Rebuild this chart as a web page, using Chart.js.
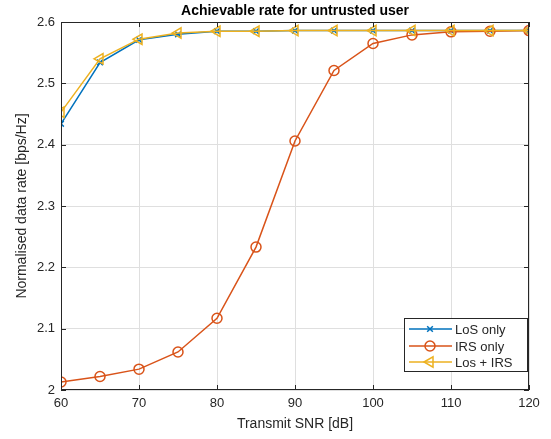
<!DOCTYPE html>
<html lang="en">
<head>
    <meta charset="UTF-8">
    <title>Achievable rate for untrusted user</title>
    <script src="https://cdn.jsdelivr.net/npm/chart.js"></script>
    <style>
        body { margin: 0; background: #fff; }
        canvas { display: block; }
    </style>
</head>
<body>
    <canvas id="rateChart" width="551" height="439"></canvas>

    <script>
        // Data
        const snrDb = [60, 65, 70, 75, 80, 85, 90, 95, 100, 105, 110, 115, 120];
        const losOnly = [2.434, 2.534, 2.571, 2.580, 2.585, 2.585, 2.586, 2.586, 2.586, 2.586, 2.586, 2.586, 2.586];
        const irsOnly = [2.013, 2.022, 2.034, 2.062, 2.117, 2.233, 2.406, 2.521, 2.565, 2.579, 2.584, 2.585, 2.586];
        const losPlusIrs = [2.453, 2.540, 2.572, 2.582, 2.585, 2.585, 2.586, 2.586, 2.586, 2.586, 2.586, 2.586, 2.586];
        const xTicks = [60, 70, 80, 90, 100, 110, 120];
        const yTicks = [2, 2.1, 2.2, 2.3, 2.4, 2.5, 2.6];

        const FONT = "'Liberation Sans', Arial, sans-serif";
        const AXIS = "#262626";

        const toPoints = ys => ys.map((y, i) => ({ x: snrDb[i], y: y }));

        // MATLAB-like box, inward ticks, title and legend
        const matlabLook = {
            id: "matlabLook",
            afterDraw(chart) {
                const ctx = chart.ctx;
                const a = chart.chartArea;
                const xs = chart.scales.x, ys = chart.scales.y;
                ctx.save();
                ctx.strokeStyle = AXIS;
                ctx.lineWidth = 1;
                ctx.strokeRect(a.left + 0.5, a.top + 0.5, a.right - a.left - 1, a.bottom - a.top - 1);
                ctx.beginPath();
                xTicks.forEach(v => {
                    const px = Math.round(xs.getPixelForValue(v)) + 0.5;
                    ctx.moveTo(px, a.bottom); ctx.lineTo(px, a.bottom - 5);
                    ctx.moveTo(px, a.top); ctx.lineTo(px, a.top + 5);
                });
                yTicks.forEach(v => {
                    const py = Math.round(ys.getPixelForValue(v)) + 0.5;
                    ctx.moveTo(a.left, py); ctx.lineTo(a.left + 5, py);
                    ctx.moveTo(a.right, py); ctx.lineTo(a.right - 5, py);
                });
                ctx.stroke();

                // title
                ctx.fillStyle = "#000";
                ctx.font = "bold 14px " + FONT;
                ctx.textAlign = "center";
                ctx.textBaseline = "middle";
                ctx.fillText("Achievable rate for untrusted user", (a.left + a.right) / 2, 11);

                // legend
                const lx = 404, ly = 318, lw = 124, lh = 54;
                ctx.fillStyle = "#fff";
                ctx.fillRect(lx, ly, lw, lh);
                ctx.strokeStyle = AXIS;
                ctx.strokeRect(lx + 0.5, ly + 0.5, lw - 1, lh - 1);
                ctx.font = "13px " + FONT;
                ctx.textAlign = "left";
                const rows = [329, 346, 362];
                chart.data.datasets.forEach((ds, i) => {
                    const y = rows[i];
                    ctx.strokeStyle = ds.borderColor;
                    ctx.lineWidth = 1.5;
                    ctx.beginPath();
                    ctx.moveTo(409, y); ctx.lineTo(452, y);
                    ctx.stroke();
                    ctx.fillStyle = "rgba(0,0,0,0)";
                    ctx.strokeStyle = ds.borderColor;
                    Chart.helpers.drawPoint(ctx, {
                        pointStyle: ds.pointStyle,
                        rotation: ds.pointRotation || 0,
                        radius: ds.pointRadius,
                        borderWidth: 1.5
                    }, 430, y);
                    ctx.fillStyle = "#262626";
                    ctx.fillText(ds.label, 455, y + 1);
                });
                ctx.restore();
            }
        };

        const ctx = document.getElementById("rateChart").getContext("2d");
        new Chart(ctx, {
            type: "line",
            data: {
                datasets: [
                    {
                        label: "LoS only",
                        data: toPoints(losOnly),
                        borderColor: "#0072BD",
                        pointBorderColor: "#0072BD",
                        backgroundColor: "transparent",
                        pointBackgroundColor: "transparent",
                        pointStyle: "crossRot",
                        pointRadius: 4,
                        borderWidth: 1.5,
                        pointBorderWidth: 1.5,
                        order: 3
                    },
                    {
                        label: "IRS only",
                        data: toPoints(irsOnly),
                        borderColor: "#D95319",
                        pointBorderColor: "#D95319",
                        backgroundColor: "transparent",
                        pointBackgroundColor: "transparent",
                        pointStyle: "circle",
                        pointRadius: 5,
                        borderWidth: 1.5,
                        pointBorderWidth: 1.5,
                        order: 2
                    },
                    {
                        label: "Los + IRS",
                        data: toPoints(losPlusIrs),
                        borderColor: "#EDB120",
                        pointBorderColor: "#EDB120",
                        backgroundColor: "transparent",
                        pointBackgroundColor: "transparent",
                        pointStyle: "triangle",
                        pointRotation: -90,
                        pointRadius: 6,
                        borderWidth: 1.5,
                        pointBorderWidth: 1.5,
                        order: 1
                    }
                ]
            },
            options: {
                responsive: false,
                animation: false,
                layout: { padding: { top: 22, right: 22, left: 0, bottom: 0 } },
                plugins: {
                    legend: { display: false },
                    title: { display: false },
                    tooltip: { enabled: false }
                },
                scales: {
                    x: {
                        type: "linear",
                        min: 60,
                        max: 120,
                        afterFit: s => { s.height = 49; },
                        afterBuildTicks: s => { s.ticks = xTicks.map(v => ({ value: v })); },
                        grid: { color: "#dfdfdf", drawTicks: false },
                        border: { display: false },
                        ticks: { padding: 6, color: "#262626", font: { family: FONT, size: 13 }, maxRotation: 0 },
                        title: {
                            display: true,
                            text: "Transmit SNR [dB]",
                            color: "#262626",
                            font: { family: FONT, size: 14 },
                            padding: { top: 0, bottom: 6 }
                        }
                    },
                    y: {
                        min: 2,
                        max: 2.6,
                        afterFit: s => { s.width = 61; },
                        afterBuildTicks: s => { s.ticks = yTicks.map(v => ({ value: v })); },
                        grid: { color: "#dfdfdf", drawTicks: false },
                        border: { display: false },
                        ticks: {
                            padding: 6,
                            color: "#262626",
                            font: { family: FONT, size: 13 },
                            callback: v => String(Math.round(v * 10) / 10)
                        },
                        title: {
                            display: true,
                            text: "Normalised data rate [bps/Hz]",
                            color: "#262626",
                            font: { family: FONT, size: 14 },
                            padding: { top: 14, bottom: 0 }
                        }
                    }
                }
            },
            plugins: [matlabLook]
        });
    </script>
</body>
</html>
